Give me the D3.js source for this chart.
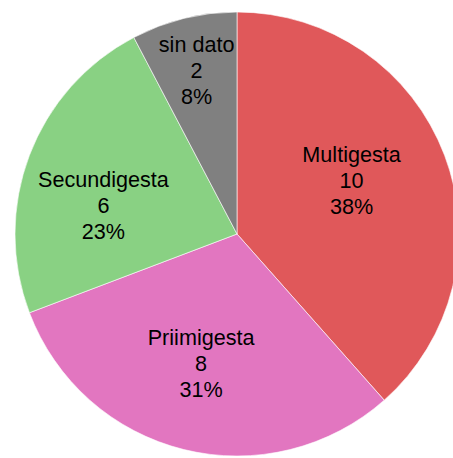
<!DOCTYPE html>
<html>
<head>
<meta charset="utf-8">
<script src="https://cdn.jsdelivr.net/npm/d3@7"></script>
<style>
  body { margin: 0; background: #fff; }
  svg { display: block; }
</style>
</head>
<body>
<div id="chart"></div>
<script>
// data
var categories = ["Multigesta", "Priimigesta", "Secundigesta", "sin dato"];
var counts = [10, 8, 6, 2];
var colours = ["#e0585a", "#e276c0", "#89d183", "#808080"];

var svgWidth = 453, svgHeight = 458;
var cx = 237, cy = 234, radius = 222;

var svg = d3.select("#chart").append("svg")
  .attr("width", svgWidth)
  .attr("height", svgHeight);

var chartGroup = svg.append("g")
  .attr("transform", `translate(${cx}, ${cy})`);

var total = d3.sum(counts);
var slices = categories.map(function (c, i) {
  return { name: c, value: counts[i], colour: colours[i] };
});

var pie = d3.pie().sort(null).value(d => d.value);
var arc = d3.arc().innerRadius(0).outerRadius(radius);
// small slices get their label pushed further out
var labelArc = d3.arc().innerRadius(radius * 0.6).outerRadius(radius * 0.6);
var outerLabelArc = d3.arc().innerRadius(radius * 0.76).outerRadius(radius * 0.76);

// little layout nudges so the text blocks sit like the original
var nudge = { "Multigesta": [-10, -7], "Priimigesta": [-4, 0], "Secundigesta": [-9, 18], "sin dato": [0, 0] };

var arcs = pie(slices);

chartGroup.selectAll("path")
  .data(arcs)
  .enter()
  .append("path")
  .attr("d", arc)
  .attr("fill", d => d.data.colour)
  .attr("stroke", "#ffffff")
  .attr("stroke-width", 0.6);

var labels = chartGroup.selectAll("text")
  .data(arcs)
  .enter()
  .append("text")
  .attr("transform", function (d) {
    var share = d.value / total;
    var p = share < 0.1 ? outerLabelArc.centroid(d) : labelArc.centroid(d);
    var n = nudge[d.data.name];
    return `translate(${p[0] + n[0]}, ${p[1] + n[1]})`;
  })
  .attr("text-anchor", "middle")
  .attr("font-family", "Liberation Sans, Arial, sans-serif")
  .attr("font-size", "21.6px")
  .attr("fill", "#000");

labels.each(function (d) {
  var t = d3.select(this);
  var lines = [d.data.name, d.value, Math.round(d.value / total * 100) + "%"];
  lines.forEach(function (s, i) {
    t.append("tspan")
      .attr("x", 0)
      .attr("y", (i - 1) * 26 + 8)
      .text(s);
  });
});
</script>
</body>
</html>
